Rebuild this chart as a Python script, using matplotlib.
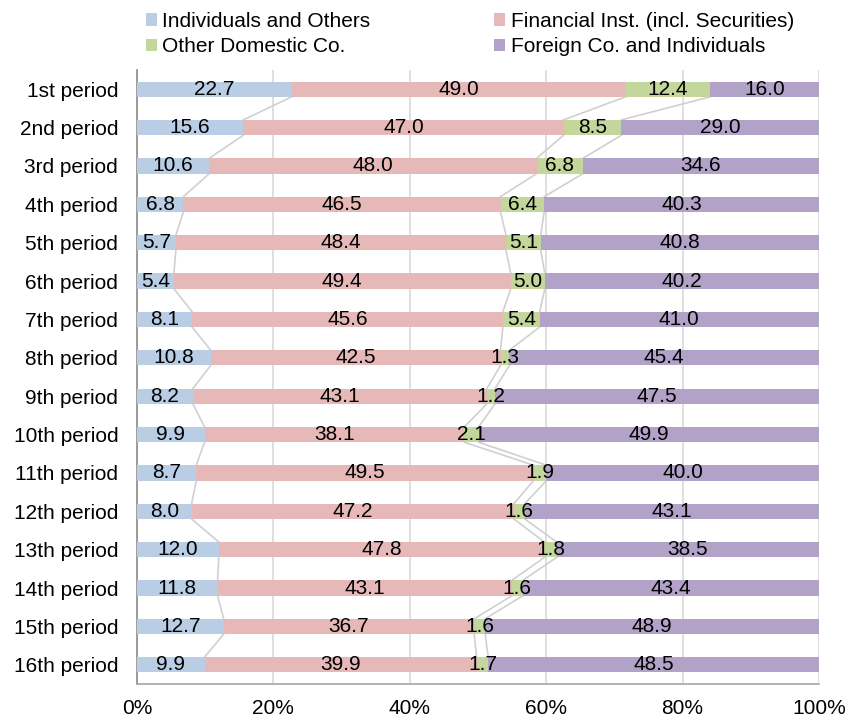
import matplotlib
matplotlib.use("Agg")
import matplotlib.pyplot as plt
import numpy as np

plt.rcParams['font.family'] = ['Liberation Sans', 'DejaVu Sans']

periods = ["1st period", "2nd period", "3rd period", "4th period", "5th period",
           "6th period", "7th period", "8th period", "9th period", "10th period",
           "11th period", "12th period", "13th period", "14th period", "15th period",
           "16th period"]
series_names = ["Individuals and Others", "Financial Inst. (incl. Securities)",
                "Other Domestic Co.", "Foreign Co. and Individuals"]
individuals = [22.7, 15.6, 10.6, 6.8, 5.7, 5.4, 8.1, 10.8, 8.2, 9.9, 8.7, 8.0, 12.0, 11.8, 12.7, 9.9]
financial = [49.0, 47.0, 48.0, 46.5, 48.4, 49.4, 45.6, 42.5, 43.1, 38.1, 49.5, 47.2, 47.8, 43.1, 36.7, 39.9]
other_domestic = [12.4, 8.5, 6.8, 6.4, 5.1, 5.0, 5.4, 1.3, 1.2, 2.1, 1.9, 1.6, 1.8, 1.6, 1.6, 1.7]
foreign = [16.0, 29.0, 34.6, 40.3, 40.8, 40.2, 41.0, 45.4, 47.5, 49.9, 40.0, 43.1, 38.5, 43.4, 48.9, 48.5]
colors = ["#B9CDE5", "#E6B9B8", "#C3D69B", "#B3A2C7"]

FS = 15

vals = np.array([individuals, financial, other_domestic, foreign])
shares = vals / vals.sum(axis=0) * 100  # 100% stacked
cum = np.cumsum(shares, axis=0)

fig = plt.figure(figsize=(8.48, 7.17), dpi=100)
ax = fig.add_axes([137/848, 1-684/717, (819-137)/848, (684-70)/717])

y = np.arange(len(periods))
h = 0.4
left = np.zeros(len(periods))
handles = []
for k in range(4):
    b = ax.barh(y, shares[k], left=left, height=h, color=colors[k],
                label=series_names[k], zorder=3)
    handles.append(b)
    for i in range(len(periods)):
        ax.text(left[i] + shares[k][i] / 2, y[i], f"{vals[k][i]:.1f}",
                ha="center", va="center", fontsize=FS, color="black", zorder=5)
    left = left + shares[k]

# series lines between adjacent bars
for k in range(3):
    for i in range(len(periods) - 1):
        ax.plot([cum[k][i], cum[k][i + 1]], [y[i] + h / 2, y[i + 1] - h / 2],
                color="#D0D0D0", lw=1.2, zorder=2)

ax.set_xlim(0, 100)
ax.set_ylim(len(periods) - 0.5, -0.5)
ax.set_yticks(y)
ax.set_yticklabels(periods, fontsize=FS)
ax.set_xticks([0, 20, 40, 60, 80, 100])
ax.set_xticklabels(["0%", "20%", "40%", "60%", "80%", "100%"], fontsize=FS)
ax.tick_params(axis="both", length=0)
ax.tick_params(axis="x", pad=11)
ax.tick_params(axis="y", pad=13.5)
ax.grid(axis="x", color="#D9D9D9", lw=1.2, zorder=0)
ax.set_axisbelow(True)
for s in ["top", "right"]:
    ax.spines[s].set_visible(False)
ax.spines["left"].set_color("#8C8C8C")
ax.spines["bottom"].set_color("#A6A6A6")
ax.spines["left"].set_linewidth(1.2)
ax.spines["bottom"].set_linewidth(1.2)

# legend filled row-wise: order handles for column-major layout
order = [0, 2, 1, 3]
fig.legend(handles=[handles[i] for i in order],
           labels=[series_names[i] for i in order], loc="upper left",
           bbox_to_anchor=(146/848, 1 - 12/717), ncol=2, frameon=False, fontsize=FS,
           handlelength=0.53, handleheight=0.53, handletextpad=0.25,
           columnspacing=5.95, labelspacing=0.3, borderaxespad=0, borderpad=0)

fig.savefig("out.png", dpi=100)
